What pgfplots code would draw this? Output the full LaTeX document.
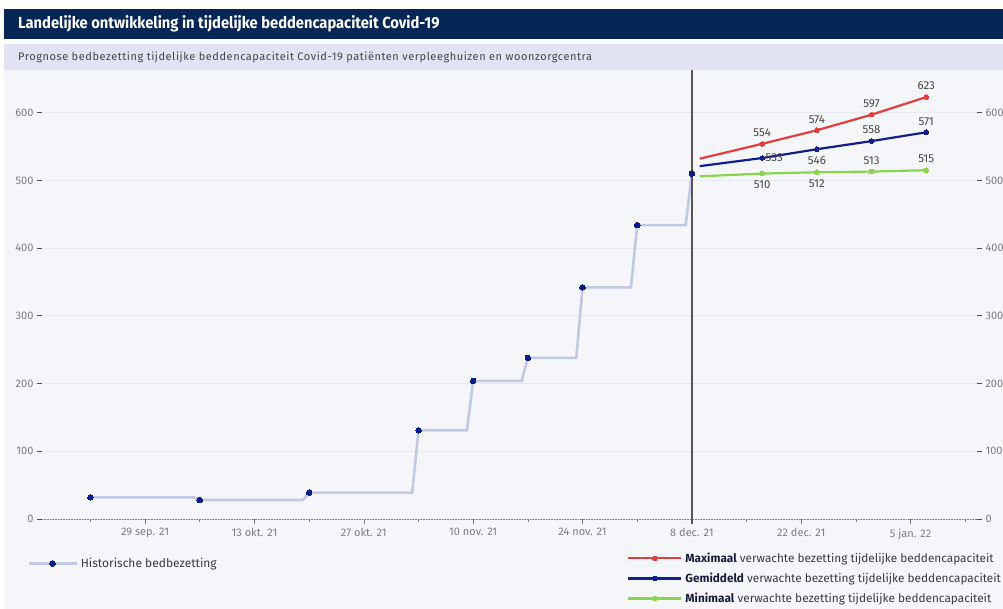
\documentclass[border=0pt]{standalone}
\usepackage{fontspec}
\setmainfont{Fira Sans}
\newfontfamily\titlefont[FakeStretch=0.92]{Fira Sans}
\newfontfamily\subfont[LetterSpace=5]{Fira Sans}
\usepackage{pgfplots}
\pgfplotsset{compat=1.18}
\definecolor{navy}{RGB}{6,38,86}
\definecolor{lav}{RGB}{225,226,242}
\definecolor{bgc}{RGB}{245,246,250}
\definecolor{gridc}{RGB}{232,234,240}
\definecolor{histc}{RGB}{194,199,228}
\definecolor{histm}{RGB}{10,28,135}
\definecolor{cRed}{RGB}{226,62,62}
\definecolor{cBlue}{RGB}{18,30,140}
\definecolor{cGreen}{RGB}{138,212,78}
\definecolor{tickc}{RGB}{125,125,125}
\definecolor{tickd}{RGB}{80,80,80}
\definecolor{lblc}{RGB}{70,70,70}
\definecolor{legc}{RGB}{60,60,60}
\definecolor{legb}{RGB}{25,30,60}
\definecolor{vline}{RGB}{85,85,85}
\begin{document}
\begin{tikzpicture}[x=1pt,y=1pt]
\fill[white] (0,0) rectangle (1003,609);
\fill[bgc] (4,0) rectangle (1003,539);
\fill[navy] (4,570) rectangle (1003,600);
\node[anchor=west, text=white, inner sep=0pt, font=\titlefont\bfseries\fontsize{16}{18}\selectfont] at (18,585) {Landelijke ontwikkeling in tijdelijke beddencapaciteit Covid-19};
\fill[lav] (4,539) rectangle (1003,565);
\node[anchor=west, text=lblc, inner sep=0pt, font=\subfont\fontsize{11}{13}\selectfont] at (18,552) {Prognose bedbezetting tijdelijke beddencapaciteit Covid-19 patiënten verpleeghuizen en woonzorgcentra};

\pgfplotsset{
  base/.style={
    at={(42pt,90pt)}, anchor=south west, scale only axis,
    width=935pt, height=449pt,
    xmin=-13.2, xmax=106.5, ymin=0, ymax=663,
    ytick={0,100,...,600},
    /pgf/number format/assume math mode=true,
    tick align=outside,
    yticklabel style={font=\fontsize{11}{12}\selectfont, text=tickc},
    ytick style={color=tickd, line width=0.9pt},
    major tick length=5pt,
    clip=false,
  },
  limg/.style={legend image code/.code={%
    \draw[##1, mark repeat=2, mark phase=2] plot coordinates {(0pt,0pt) (#1/2,0pt) (#1,0pt)};}},
}

\begin{axis}[base,
  axis x line*=bottom, axis y line*=left,
  y axis line style={draw=none},
  x axis line style={draw=tickc, densely dotted, line width=0.6pt},
  xtick={0,14,...,98},
  xticklabels={29 sep. 21,13 okt. 21,27 okt. 21,10 nov. 21,24 nov. 21,8 dec. 21,22 dec. 21,5 jan. 22},
  minor xtick={-7,7,...,105},
  xtick style={color=tickc, line width=0.6pt},
  minor tick length=3pt,
  xticklabel style={font=\fontsize{11}{12}\selectfont, text=tickc, yshift=-1pt},
  ymajorgrids, major grid style={color=gridc, line width=0.8pt},
  limg=48pt,
  legend style={at={(-0.016,-0.082)}, anchor=north west, draw=none, fill=none,
    inner sep=0pt, font=\fontsize{12}{14}\selectfont, text=legc,
    cells={anchor=west}, /tikz/every odd column/.append style={column sep=1pt}},
]
\addplot[histc, line width=2.6pt, mark=*, mark repeat=2, mark phase=1,
  mark options={histm, fill=histm, line width=0pt, mark size=2.8pt}]
  coordinates {
  (-7,32) (6.2,32) (7,28) (20.2,28) (21,39) (34.2,39) (35,131) (41.2,131)
  (42,204) (48.2,204) (49,238) (55.2,238) (56,342) (62.2,342) (63,434) (69.2,434) (70,510)
  };
\addlegendentry{Historische bedbezetting}
\draw[vline, line width=1.6pt] (axis cs:70,663) -- (axis cs:70,-7);
\end{axis}

\begin{axis}[base,
  axis x line=none, axis y line*=right,
  y axis line style={draw=none},
  limg=53pt,
  legend style={at={(0.6257,-0.0705)}, anchor=north west, draw=none, fill=none,
    inner sep=0pt, font=\fontsize{11.8}{14}\selectfont, text=legc, row sep=5pt,
    cells={anchor=west}, /tikz/every odd column/.append style={column sep=1pt}},
  lab/.style={forget plot, draw=none, mark=none, nodes near coords,
    point meta=explicit symbolic,
    every node near coord/.append style={font=\fontsize{11.5}{12}\selectfont, text=lblc, anchor=center, #1}},
]
\addplot[cRed, line width=2.2pt, mark=*, mark repeat=1, mark phase=2,
  mark options={fill=cRed, mark size=2.3pt, line width=0pt}]
  coordinates {(71,532) (79,554) (86,574) (93,597) (100,623)};
\addlegendentry{\textcolor{legb}{\textbf{Maximaal}} verwachte bezetting tijdelijke beddencapaciteit}
\addplot[cBlue, line width=2.2pt, mark=*, mark repeat=1, mark phase=2,
  mark options={fill=cBlue, mark size=2.3pt, line width=0pt}]
  coordinates {(71,521) (79,533) (86,546) (93,558) (100,571)};
\addlegendentry{\textcolor{legb}{\textbf{Gemiddeld}} verwachte bezetting tijdelijke beddencapaciteit}
\addplot[cGreen, line width=2.2pt, mark=*, mark repeat=1, mark phase=2,
  mark options={fill=cGreen, mark size=2.3pt, line width=0pt}]
  coordinates {(71,506) (79,510) (86,512) (93,513) (100,515)};
\addlegendentry{\textcolor{legb}{\textbf{Minimaal}} verwachte bezetting tijdelijke beddencapaciteit}

\addplot[lab={yshift=11pt}] coordinates {(79,554)[554] (86,574)[574] (93,597)[597] (100,623)[623]
  (93,558)[558] (100,571)[571] (93,513)[513] (100,515)[515]};
\addplot[lab={yshift=-11pt}] coordinates {(86,546)[546] (79,510)[510] (86,512)[512]};
\addplot[lab={xshift=12pt}] coordinates {(79,533)[533]};
\end{axis}
\pgfresetboundingbox
\path[use as bounding box] (0,0) rectangle (1003,609);
\end{tikzpicture}
\end{document}
